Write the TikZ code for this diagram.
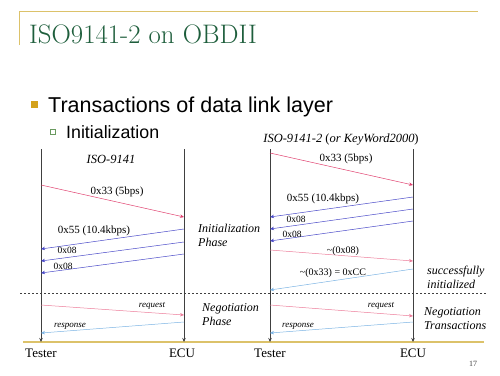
\documentclass[tikz,border=0pt]{standalone}
\usepackage{fontspec}
\setmainfont{Liberation Serif}
\newfontfamily\sansf{Liberation Sans}
\newfontfamily\titlef{Latin Modern Roman}
\usetikzlibrary{arrows.meta}
\definecolor{goldline}{HTML}{DCC26A}
\definecolor{goldbullet}{HTML}{D4A21C}
\definecolor{titlegreen}{HTML}{1E5E3C}
\definecolor{subgreen}{HTML}{6A9A60}
\definecolor{lifegray}{HTML}{404040}
\definecolor{msgred}{HTML}{E0406E}
\definecolor{msgblue}{HTML}{4A4AC8}
\definecolor{msgpink}{HTML}{EC7C9A}
\definecolor{msglblue}{HTML}{7CB4E4}
\begin{document}
\begin{tikzpicture}[x=1pt,y=-1pt,
  lifeline/.style={draw=lifegray,line width=0.6pt,-{Stealth[length=4pt,width=3.5pt]}},
  msgA/.style={draw=msgred,line width=0.5pt,-{Stealth[length=4pt,width=3.5pt]}},
  msgB/.style={draw=msgblue,line width=0.5pt,-{Stealth[length=4pt,width=3.5pt]}},
  msgC/.style={draw=msgpink,line width=0.5pt,-{Stealth[length=4pt,width=3.5pt]}},
  msgD/.style={draw=msglblue,line width=0.5pt,-{Stealth[length=4pt,width=3.5pt]}},
  lbl/.style={inner sep=0pt,font=\fontsize{11}{12}\selectfont},
  slbl/.style={inner sep=0pt,font=\fontsize{9}{10}\selectfont\itshape},
  side/.style={inner sep=0pt,anchor=base west,align=left,font=\fontsize{12}{13.5}\selectfont\itshape},
  actor/.style={inner sep=0pt,font=\fontsize{13}{14}\selectfont},
  head/.style={inner sep=0pt,font=\fontsize{12.5}{14}\selectfont\itshape}]
\useasboundingbox (0,0) rectangle (500,375);
% frame lines
\coordinate (tl) at (19,11);
\coordinate (tr) at (478,11);
\coordinate (tld) at (19,45);
\draw[goldline,line width=1pt] (tld) -- (tl) -- (tr);
\coordinate (bl) at (23,342);
\coordinate (br) at (484,342);
\draw[goldline,line width=1.2pt] (bl) -- (br);
% title
\node[anchor=base west,inner sep=0pt,text=titlegreen,font=\titlef\fontsize{26.8}{28}\selectfont] (title) at (29,43) {ISO9141-2 on OBDII};
% bullets
\node[fill=goldbullet,minimum size=7pt,inner sep=0pt] (b1) at (34,104) {};
\node[anchor=base west,inner sep=0pt,font=\sansf\fontsize{21.5}{24}\selectfont] (t1) at (48,112) {Transactions of data link layer};
\node[draw=subgreen,line width=0.6pt,minimum size=5pt,inner sep=0pt] (b2) at (53,132) {};
\node[anchor=base west,inner sep=0pt,font=\sansf\fontsize{17.8}{20}\selectfont] (t2) at (66,138) {Initialization};
% dashed separator
\coordinate (ds) at (20,293);
\coordinate (de) at (486,293);
\draw[lifegray,dashed,line width=0.5pt,dash pattern=on 2pt off 2pt] (ds) -- (de);
% lifelines
\coordinate (T1t) at (41,149); \coordinate (T1b) at (41,342);
\coordinate (E1t) at (184,149); \coordinate (E1b) at (184,342);
\coordinate (T2t) at (270,149); \coordinate (T2b) at (270,342);
\coordinate (E2t) at (413,149); \coordinate (E2b) at (413,342);
\draw[lifeline] (T1t) -- (T1b);
\draw[lifeline] (E1t) -- (E1b);
\draw[lifeline] (T2t) -- (T2b);
\draw[lifeline] (E2t) -- (E2b);
% headings
\node[head] (h1) at (111,159) {ISO-9141};
\node[head] (h2) at (341,140) {ISO-9141-2 {\upshape(}or KeyWord2000{\upshape)}};
% left diagram messages
\coordinate (l1s) at (41,185);  \coordinate (l1e) at (184,217);
\coordinate (l2s) at (184,229); \coordinate (l2e) at (41,249);
\coordinate (l3s) at (184,242); \coordinate (l3e) at (41,261);
\coordinate (l4s) at (184,254); \coordinate (l4e) at (41,273);
\coordinate (l5s) at (41,305);  \coordinate (l5e) at (184,315);
\coordinate (l6s) at (184,322); \coordinate (l6e) at (41,333);
\draw[msgA] (l1s) -- (l1e);
\draw[msgB] (l2s) -- (l2e);
\draw[msgB] (l3s) -- (l3e);
\draw[msgB] (l4s) -- (l4e);
\draw[msgC] (l5s) -- (l5e);
\draw[msgD] (l6s) -- (l6e);
\node[lbl] (ll1) at (117,192) {0x33 (5bps)};
\node[lbl] (ll2) at (94,231) {0x55 (10.4kbps)};
\node[lbl,font=\fontsize{9.5}{10}\selectfont] (ll3) at (67,250) {0x08};
\node[lbl,font=\fontsize{9.5}{10}\selectfont] (ll4) at (63,266) {0x08};
\node[slbl] (ll5) at (152,306) {request};
\node[slbl] (ll6) at (70,326) {response};
\node[side] (s1) at (198,246) {Initialization\\Phase};
\node[side] (s2) at (202,325) {Negotiation\\Phase};
% right diagram messages
\coordinate (r1s) at (270,153); \coordinate (r1e) at (413,185);
\coordinate (r2s) at (413,197); \coordinate (r2e) at (270,217);
\coordinate (r3s) at (413,209); \coordinate (r3e) at (270,229);
\coordinate (r4s) at (413,221); \coordinate (r4e) at (270,241);
\coordinate (r5s) at (270,250); \coordinate (r5e) at (413,261);
\coordinate (r6s) at (413,269); \coordinate (r6e) at (270,290);
\coordinate (r7s) at (270,305); \coordinate (r7e) at (413,316);
\coordinate (r8s) at (413,322); \coordinate (r8e) at (270,333);
\draw[msgA] (r1s) -- (r1e);
\draw[msgB] (r2s) -- (r2e);
\draw[msgB] (r3s) -- (r3e);
\draw[msgB] (r4s) -- (r4e);
\draw[msgC] (r5s) -- (r5e);
\draw[msgD] (r6s) -- (r6e);
\draw[msgC] (r7s) -- (r7e);
\draw[msgD] (r8s) -- (r8e);
\node[lbl] (rl1) at (346,159) {0x33 (5bps)};
\node[lbl] (rl2) at (323,199) {0x55 (10.4kbps)};
\node[lbl,font=\fontsize{9.5}{10}\selectfont] (rl3) at (296,219) {0x08};
\node[lbl,font=\fontsize{9.5}{10}\selectfont] (rl4) at (292,234) {0x08};
\node[lbl,font=\fontsize{10}{11}\selectfont] (rl5) at (343,251) {\char"007E(0x08)};
\node[lbl,font=\fontsize{10}{11}\selectfont] (rl6) at (333,273) {\char"007E(0x33) = 0xCC};
\node[slbl] (rl7) at (381,306) {request};
\node[slbl] (rl8) at (298,326) {response};
\node[side] (s3) at (427,288) {successfully\\initialized};
\node[side] (s4) at (424,329) {Negotiation\\Transactions};
% actors
\node[actor] (a1) at (41,353) {Tester};
\node[actor] (a2) at (182,353) {ECU};
\node[actor] (a3) at (270,353) {Tester};
\node[actor] (a4) at (413,353) {ECU};
\node[inner sep=0pt,text=lifegray,font=\fontsize{8}{9}\selectfont] (pg) at (473,364) {17};
\end{tikzpicture}
\end{document}
